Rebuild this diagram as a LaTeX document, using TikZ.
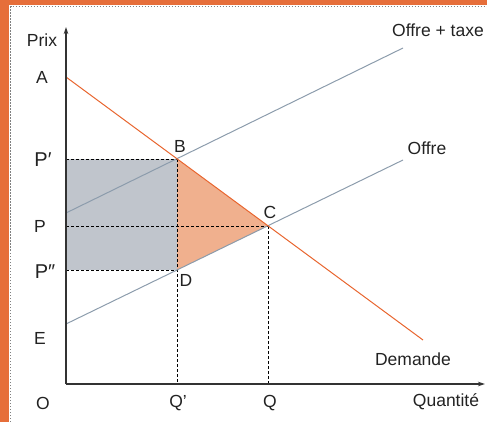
\documentclass[tikz,border=0pt]{standalone}
\usepackage{fontspec}
\setmainfont{Liberation Sans}
\usetikzlibrary{arrows.meta}
\definecolor{frameor}{HTML}{E66E3A}
\definecolor{demor}{HTML}{E8652E}
\definecolor{supgray}{HTML}{8C9CAC}
\definecolor{rectgray}{HTML}{C0C5CC}
\definecolor{trior}{HTML}{F0B08E}
\definecolor{axisgray}{HTML}{333333}
\definecolor{txt}{HTML}{222222}
\begin{document}
\begin{tikzpicture}[x=1pt,y=-1pt,
  lbl/.style={font=\fontsize{17.5}{20}\selectfont,text=txt,inner sep=0pt},
  biglbl/.style={font=\fontsize{20}{22}\selectfont,text=txt,inner sep=0pt},
  axisline/.style={draw=axisgray,line width=1.1pt},
  demand/.style={draw=demor,line width=1pt},
  supply/.style={draw=supgray,line width=1pt},
  guide/.style={draw=black,dashed,dash pattern=on 3pt off 2pt,line width=0.7pt},
  borderdots/.style={draw=gray,dash pattern=on 1.5pt off 1.5pt,line width=1pt}]
\useasboundingbox (0,0) rectangle (487,422);
% frame
\fill[frameor] (0,0) rectangle (487,5.5);
\fill[frameor] (0,0) rectangle (9,422);
\draw[borderdots] (10.5,422) -- (10.5,7) -- (487,7);
% coordinates
\coordinate (O) at (66,384);
\coordinate (Ytop) at (66,27);
\coordinate (Xend) at (485,384);
\coordinate (A) at (66,77);
\coordinate (Dend) at (423,340);
\coordinate (T0) at (66,213);
\coordinate (T1) at (403,48);
\coordinate (E) at (66,324);
\coordinate (S1) at (403,160);
\coordinate (B) at (177,159);
\coordinate (C) at (268,226);
\coordinate (D) at (177,270);
\coordinate (Pp) at (66,159);
\coordinate (P) at (66,226);
\coordinate (Ppp) at (66,270);
\coordinate (Qp) at (177,384);
\coordinate (Q) at (268,384);
% fills
\fill[rectgray] (Pp) rectangle (D);
\fill[trior] (B) -- (C) -- (D) -- cycle;
% guides
\draw[guide] (Pp) -- (B);
\draw[guide] (P) -- (C);
\draw[guide] (Ppp) -- (D);
\draw[guide] (B) -- (Qp);
\draw[guide] (C) -- (Q);
% curves
\draw[supply] (T0) -- (T1);
\draw[supply] (E) -- (S1);
\draw[demand] (A) -- (Dend);
% axes
\draw[axisline,-{Stealth[length=7pt,width=4.5pt]}] (O) -- (Ytop);
\draw[axisline,-{Stealth[length=7pt,width=4.5pt]}] (O) -- (Xend);
% labels
\node[lbl] (lPrix) at (42,40) {Prix};
\node[lbl] (lA) at (42,77) {A};
\node[biglbl] (lPp) at (43,160) {P′};
\node[lbl] (lP) at (40,226) {P};
\node[biglbl] (lPpp) at (45,272) {P″};
\node[lbl] (lE) at (40,338) {E};
\node[lbl] (lO) at (43,403) {O};
\node[lbl] (lQp) at (178,403) {Q’};
\node[lbl] (lQ) at (270,403) {Q};
\node[lbl] (lQuant) at (446,402) {Quantité};
\node[lbl] (lDem) at (413,359) {Demande};
\node[lbl] (lOffre) at (427,148) {Offre};
\node[lbl] (lTaxe) at (438,30) {Offre + taxe};
\node[lbl] (lB) at (180,146) {B};
\node[lbl] (lC) at (270,212) {C};
\node[lbl] (lD) at (186,280) {D};
\end{tikzpicture}
\end{document}
